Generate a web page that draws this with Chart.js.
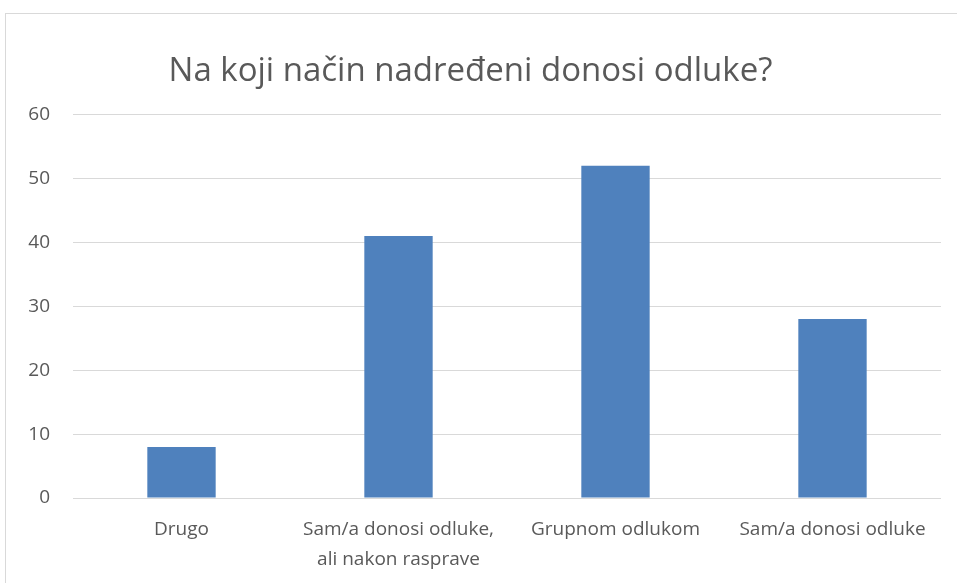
<!DOCTYPE html>
<html>
<head>
<meta charset="utf-8">
<script src="https://cdn.jsdelivr.net/npm/chart.js@4/dist/chart.umd.min.js"></script>
<style>
  html, body { margin: 0; padding: 0; background: #fff; overflow: hidden; }
  #frame { position: absolute; left: 5px; top: 13px; width: 1000px; height: 1000px; border: 1px solid #d9d9d9; }
  #wrap { position: absolute; left: 0; top: 0; width: 957px; height: 583px; }
</style>
</head>
<body>
<div id="frame"></div>
<div id="wrap"><canvas id="myChart"></canvas></div>
<script>
  // chart data
  const categories = [
    'Drugo',
    ['Sam/a donosi odluke,', 'ali nakon rasprave'],
    'Grupnom odlukom',
    'Sam/a donosi odluke'
  ]
  const values = [8, 41, 52, 28]
  const yTicks = [0, 10, 20, 30, 40, 50, 60]
  const chartTitle = 'Na koji način nadređeni donosi odluke?'

  const textColor = '#595959'
  const fontFamily = '"Open Sans", "Noto Sans", sans-serif'

  new Chart(document.getElementById('myChart'), {
    type: 'bar',
    data: {
      labels: categories,
      datasets: [{
        data: values,
        backgroundColor: '#4F81BD',
        borderWidth: 0,
        barPercentage: 0.45,
        categoryPercentage: 0.7
      }]
    },
    options: {
      responsive: true,
      maintainAspectRatio: false,
      animation: false,
      layout: { padding: { left: 0, right: 16, top: 52, bottom: 9 } },
      plugins: {
        legend: { display: false },
        tooltip: { enabled: false },
        title: {
          display: true,
          text: chartTitle,
          color: textColor,
          font: { family: fontFamily, size: 33, weight: 'normal' },
          padding: { top: 0, bottom: 23 }
        }
      },
      scales: {
        x: {
          afterFit: (axis) => { axis.height = 76 },
          grid: { display: false },
          border: { display: false },
          ticks: {
            color: textColor,
            font: { family: fontFamily, size: 19, lineHeight: 1.55 },
            maxRotation: 0,
            autoSkip: false,
            padding: 9
          }
        },
        y: {
          min: yTicks[0],
          max: yTicks[yTicks.length - 1],
          afterBuildTicks: (axis) => { axis.ticks = yTicks.map(v => ({ value: v })) },
          afterFit: (axis) => { axis.width = 73 },
          grid: { color: '#d9d9d9', lineWidth: 1, drawTicks: false },
          border: { display: false },
          ticks: {
            color: textColor,
            font: { family: fontFamily, size: 19 },
            padding: 23
          }
        }
      }
    }
  })
</script>
</body>
</html>
